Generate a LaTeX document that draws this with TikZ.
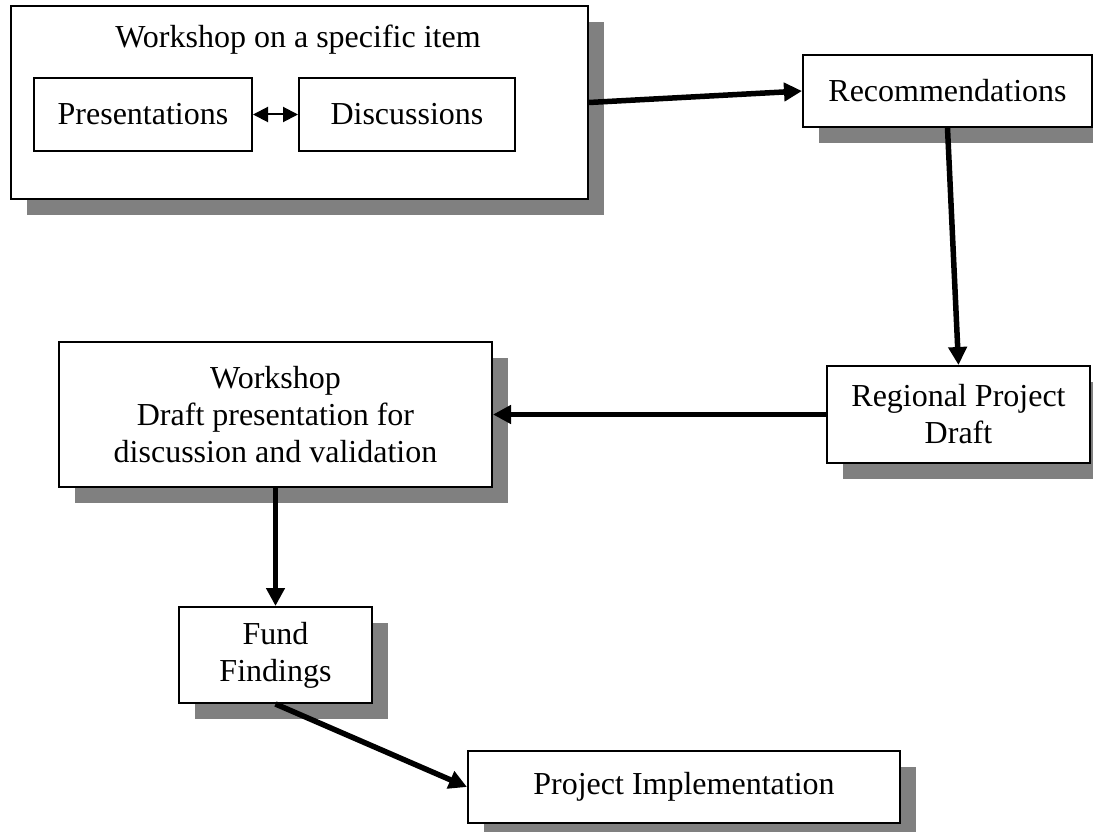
\documentclass[tikz,border=0pt]{standalone}
\usepackage{fontspec}
\setmainfont{Liberation Serif}
\usetikzlibrary{arrows.meta,shadows}
\definecolor{shadowgray}{RGB}{128,128,128}
\begin{document}
\begin{tikzpicture}[x=1pt,y=-1pt,
  box/.style={draw=black, line width=2pt, fill=white, rectangle, anchor=north west,
    inner sep=0pt, align=center, font=\fontsize{32}{37}\selectfont},
  shbox/.style={box, drop shadow={shadow xshift=16pt, shadow yshift=-16pt, fill=shadowgray, opacity=1}},
  flow/.style={line width=5.5pt, -{Triangle[length=18pt,width=18pt]}},
  twoway/.style={line width=2pt, {Triangle[length=15pt,width=15pt]}-{Triangle[length=15pt,width=15pt]}},
  lbl/.style={font=\fontsize{32}{37}\selectfont}
]
\useasboundingbox (0,0) rectangle (1093,832);

% Workshop on a specific item
\node[shbox, minimum width=577pt, minimum height=193pt] (ws1) at (10,5) {};
\node[lbl] (ws1t) at (298,40) {Workshop on a specific item};
\node[box, minimum width=218pt, minimum height=73pt] (pres) at (33,77) {Presentations};
\node[box, minimum width=216pt, minimum height=73pt] (disc) at (298,77) {Discussions};
\draw[twoway] (pres.east) -- (disc.west);

% Recommendations
\node[shbox, minimum width=289pt, minimum height=72pt] (rec) at (802,54) {Recommendations};

% Regional Project Draft
\node[shbox, minimum width=263pt, minimum height=97pt] (reg) at (826,365) {Regional Project\\Draft};

% Workshop draft presentation
\node[shbox, minimum width=433pt, minimum height=145pt] (ws2) at (58,341) {Workshop\\Draft presentation for\\discussion and validation};

% Fund Findings
\node[shbox, minimum width=193pt, minimum height=96pt] (fund) at (178,606) {Fund\\Findings};

% Project Implementation
\node[shbox, minimum width=432pt, minimum height=72pt] (impl) at (467,750) {Project Implementation};

% connectors
\draw[flow] (ws1.east) -- (rec.west);
\draw[flow] (rec.south) -- (reg.north);
\draw[flow] (reg.west) -- (ws2.east);
\draw[flow] (ws2.south) -- (fund.north);
\draw[flow] (fund.south) -- (impl.west);
\end{tikzpicture}
\end{document}
